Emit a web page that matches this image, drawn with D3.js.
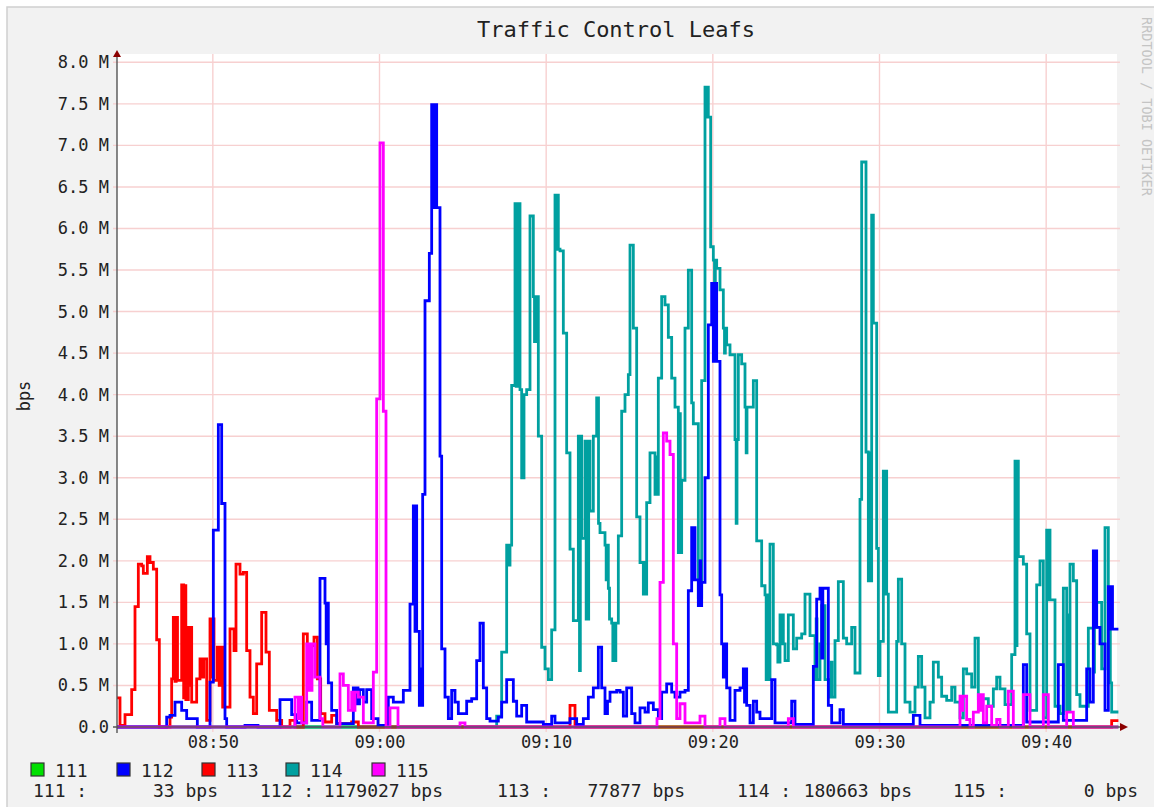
<!DOCTYPE html>
<html>
<head>
<meta charset="utf-8">
<title>Traffic Control Leafs</title>
<script src="https://cdn.jsdelivr.net/npm/d3@7"></script>
<style>
  html, body { margin: 0; padding: 0; background: #ffffff; }
  svg { display: block; }
  text { font-family: "DejaVu Sans Mono", "Liberation Mono", monospace; }
</style>
</head>
<body>
<svg id="chart" width="1154" height="807"></svg>
<script>
// ---- data: each series is a list of [minutes past 08:00, Mbit/s] step points ----
const seriesNames = ["111", "112", "113", "114", "115"];
const seriesColors = ["#00e000", "#0000ff", "#ff0000", "#00a0a0", "#ff00ff"];
const timeRange = [44.25, 104.25];
const xTickLabels = ["08:50", "09:00", "09:10", "09:20", "09:30", "09:40"];
const yTickValues = [0, 0.5, 1.0, 1.5, 2.0, 2.5, 3.0, 3.5, 4.0, 4.5, 5.0, 5.5, 6.0, 6.5, 7.0, 7.5, 8.0];

const s111 = [[44.25,0],[60.0,0.00002],[85.0,0.00004],[103.9,0.000033],[104.25,0.000033]];

const s112 = [[44.25,0],[47.23,0.12],[47.43,0.14],[47.73,0.3],[48.13,0.2],[48.43,0.1],[49.07,0],
  [49.83,0.54],[50.03,2.37],[50.33,3.64],[50.53,2.69],[50.73,0.1],[50.83,0],[51.93,0.02],[52.71,0],
  [54.03,0.33],[54.73,0.15],[55.03,0.05],[55.41,0.05],[55.63,0.3],[55.93,0.08],[56.43,1.79],[56.73,1.49],
  [56.8,1.0],[56.85,1.49],[56.93,0.53],[57.13,0.2],[57.43,0.04],[58.43,0.47],[58.58,0.28],[58.65,0.47],
  [58.71,0.28],[58.8,0.45],[59.03,0.3],[59.23,0.45],[59.53,0.1],[59.91,0.02],[60.53,0.36],[60.83,0.3],
  [61.43,0.44],[61.83,1.48],[62.03,2.66],[62.13,1.15],[62.18,2.66],[62.23,1.15],[62.39,0.26],[62.49,0.7],
  [62.54,0.26],[62.59,2.8],[62.73,5.13],[62.99,5.7],[63.13,7.49],[63.28,6.25],[63.33,7.49],[63.43,6.25],
  [63.63,3.26],[63.73,0.94],[63.93,0.36],[64.13,0.1],[64.33,0.44],[64.53,0.3],[64.73,0.16],[65.23,0.31],
  [65.53,0.34],[65.83,0.8],[66.03,1.25],[66.23,0.47],[66.43,0.1],[66.63,0.07],[67.13,0.12],[67.33,0.3],
  [67.63,0.57],[68.03,0.31],[68.23,0.13],[68.53,0.26],[68.83,0.06],[69.83,0.03],[70.33,0.13],[70.53,0.05],
  [71.43,0.1],[71.83,0.03],[72.23,0.1],[72.53,0.36],[72.83,0.47],[73.13,0.96],[73.33,0.47],[73.53,0.16],
  [73.68,0.31],[73.83,0.42],[74.23,0.44],[74.43,0.42],[74.63,0.13],[74.83,0.47],[75.13,0.16],[75.33,0.05],
  [75.63,0.23],[75.93,0.18],[76.13,0.29],[76.43,0.21],[76.73,0.1],[76.93,0.42],[77.23,0.52],[77.53,0.42],
  [77.73,0.36],[78.03,0.42],[78.33,0.44],[78.53,1.64],[78.73,2.4],[78.83,1.77],[78.88,2.4],[78.93,1.77],
  [79.13,1.46],[79.23,2.0],[79.28,1.46],[79.33,1.74],[79.53,3.0],[79.73,4.84],[79.93,5.34],[80.03,4.4],
  [80.1,5.34],[80.23,4.4],[80.43,1.59],[80.53,1.0],[80.63,0.6],[80.7,1.0],[80.83,0.47],[81.03,0.08],
  [81.33,0.44],[81.63,0.47],[81.83,0.7],[81.9,0.3],[81.95,0.7],[82.03,0.26],[82.23,0.05],[82.43,0.31],
  [82.63,0.18],[82.83,0.1],[83.53,0.57],[83.73,0.05],[84.73,0.31],[84.93,0.03],[86.03,0.73],[86.23,1.54],
  [86.43,1.67],[86.53,0.83],[86.6,1.67],[86.93,0.26],[87.13,0.05],[87.63,0.21],[87.83,0.03],[92.03,0.14],
  [92.43,0.02],[98.63,0.75],[98.83,0.06],[100.73,0.75],[101.03,0.08],[102.43,0.7],[102.63,0.3],[102.83,2.12],
  [102.93,1.2],[102.98,2.12],[103.03,1.2],[103.23,1.0],[103.53,0.2],[103.73,1.69],[103.83,1.179027],
  [103.88,1.69],[103.98,1.179027],[104.25,1.179027]];

const s113 = [[44.25,0.35],[44.43,0.02],[44.73,0.15],[45.13,0.45],[45.33,1.45],[45.53,1.96],[45.73,1.94],
  [45.83,1.85],[46.07,2.05],[46.23,1.98],[46.43,1.9],[46.63,1.05],[46.79,0],[47.43,0.12],[47.53,0.58],
  [47.63,1.32],[47.73,0.55],[47.8,1.32],[47.88,0.56],[48.13,1.71],[48.25,0.35],[48.3,1.7],[48.38,0.33],
  [48.53,1.2],[48.63,0.5],[48.68,1.2],[48.73,0.3],[49.03,0.58],[49.23,0.82],[49.38,0.6],[49.45,0.82],
  [49.63,0.08],[49.83,1.3],[49.93,0.6],[49.98,1.3],[50.07,0.56],[50.27,0.96],[50.38,0.5],[50.45,0.96],
  [50.59,0.24],[51.03,1.18],[51.27,0.92],[51.39,1.96],[51.63,1.84],[51.83,1.86],[52.03,0.92],[52.23,0.36],
  [52.43,0.16],[52.63,0.76],[52.93,1.38],[53.19,0.9],[53.39,0.2],[53.83,0.08],[54.13,0],[54.63,0.08],
  [54.93,0],[55.43,1.12],[55.67,0.98],[56.07,1.08],[56.27,0.58],[56.47,0.16],[56.73,0.06],[57.13,0.14],
  [57.43,0.04],[58.33,0.06],[58.73,0],[71.43,0.26],[71.73,0],[103.93,0.077877],[104.25,0.077877]];

const s114 = [[44.25,0],[67.03,0.13],[67.33,0.9],[67.63,2.19],[67.73,1.95],[67.83,2.19],[67.93,4.11],
  [68.13,6.3],[68.2,4.1],[68.25,6.3],[68.33,4.1],[68.38,6.3],[68.43,4.06],[68.53,3.0],[68.58,3.9],[68.63,3.0],
  [68.67,4.0],[68.83,4.06],[69.03,6.15],[69.23,5.18],[69.3,4.64],[69.35,5.18],[69.43,4.64],[69.48,5.18],
  [69.53,3.5],[69.73,0.96],[69.93,0.7],[70.13,0.57],[70.33,1.17],[70.53,6.4],[70.6,5.75],[70.65,6.4],
  [70.73,5.75],[70.83,5.73],[71.03,4.74],[71.23,3.3],[71.43,2.14],[71.63,1.28],[71.93,3.5],[72.0,0.68],
  [72.05,3.5],[72.13,2.27],[72.33,3.44],[72.4,1.3],[72.45,3.44],[72.5,1.3],[72.55,3.44],[72.63,2.6],
  [72.83,3.5],[73.03,3.96],[73.14,2.45],[73.23,2.34],[73.53,2.19],[73.6,1.77],[73.65,2.19],[73.73,1.67],
  [73.8,1.3],[73.93,1.25],[74.0,0.8],[74.05,1.25],[74.13,0.8],[74.18,1.25],[74.33,2.3],[74.53,3.8],
  [74.73,4.0],[74.93,4.24],[75.03,5.8],[75.23,4.8],[75.43,2.53],[75.63,1.98],[75.83,1.6],[75.9,1.98],
  [75.95,1.6],[76.03,2.7],[76.23,3.3],[76.53,2.8],[76.6,3.25],[76.65,2.8],[76.73,4.2],[76.93,5.18],
  [77.13,5.08],[77.33,4.69],[77.53,4.2],[77.73,3.85],[77.93,2.1],[78.0,3.77],[78.05,2.1],[78.13,2.97],
  [78.33,4.8],[78.53,5.5],[78.73,3.9],[78.83,3.65],[79.13,1.56],[79.2,2.0],[79.25,1.56],[79.33,4.17],
  [79.53,7.7],[79.6,7.34],[79.65,7.7],[79.73,7.34],[79.87,5.78],[80.03,5.62],[80.1,5.36],[80.15,5.62],
  [80.23,5.52],[80.43,5.26],[80.63,4.8],[80.7,4.5],[80.75,4.8],[80.83,4.6],[81.03,4.48],[81.33,3.46],
  [81.4,2.45],[81.45,3.46],[81.53,4.48],[81.73,4.37],[81.93,3.85],[82.0,3.3],[82.05,3.85],[82.13,3.85],
  [82.43,4.17],[82.63,2.24],[82.93,1.7],[83.13,1.59],[83.2,0.57],[83.25,1.59],[83.33,0.57],[83.43,2.2],
  [83.63,1.0],[83.83,0.99],[83.9,0.78],[84.03,1.35],[84.1,1.0],[84.15,1.35],[84.23,1.0],[84.33,0.8],
  [84.53,1.35],[84.83,0.94],[85.03,1.07],[85.33,1.12],[85.53,1.6],[85.83,1.1],[86.13,0.57],[86.2,1.3],
  [86.25,0.57],[86.43,1.0],[86.53,1.46],[86.73,0.57],[87.03,0.36],[87.1,0.78],[87.15,0.36],[87.33,1.04],
  [87.53,1.75],[87.83,1.07],[88.03,1.0],[88.33,1.2],[88.53,0.65],[88.83,2.74],[88.93,6.8],[89.19,3.31],
  [89.33,1.76],[89.4,3.3],[89.45,1.76],[89.53,6.16],[89.63,4.86],[89.83,2.15],[89.93,0.62],[90.03,1.03],
  [90.23,3.08],[90.3,1.6],[90.35,3.08],[90.43,1.6],[90.53,0.18],[91.03,1.03],[91.13,1.78],[91.33,1.0],
  [91.53,0.3],[91.83,0.18],[92.13,0.48],[92.33,0.85],[92.53,0.48],[92.73,0.11],[93.03,0.3],[93.23,0.78],
  [93.53,0.6],[93.73,0.37],[94.03,0.32],[94.33,0.48],[94.53,0.3],[94.83,0.11],[95.03,0.7],[95.23,0.64],
  [95.53,0.48],[95.73,1.07],[95.93,0.34],[96.53,0.25],[96.83,0.46],[97.03,0.6],[97.23,0.46],[97.53,0.27],
  [97.93,0.87],[98.13,3.2],[98.2,0.98],[98.25,3.2],[98.33,2.05],[98.63,1.96],[98.83,1.12],[99.03,0.2],
  [99.43,1.71],[99.63,2.0],[99.83,0.11],[100.03,2.37],[100.1,1.53],[100.15,2.37],[100.23,1.53],[100.53,0.25],
  [100.83,0.16],[101.03,1.67],[101.23,0.2],[101.3,1.35],[101.35,0.2],[101.43,1.96],[101.63,1.76],[101.83,0.39],
  [102.03,0.25],[102.53,1.19],[102.83,0.66],[102.9,1.2],[103.03,1.5],[103.33,0.7],[103.53,2.4],[103.73,0.53],
  [103.8,1.35],[103.85,0.53],[103.93,0.180663],[104.25,0.180663]];

const s115 = [[44.25,0],[54.93,0.36],[55.13,0.1],[55.23,0.36],[55.33,0.05],[55.63,1.0],[55.73,0.44],
  [55.8,1.0],[55.88,0.44],[55.95,1.0],[56.13,0.6],[56.43,0.1],[56.6,0],[57.63,0.64],[57.83,0.5],[58.13,0.2],
  [58.33,0.42],[58.45,0.2],[58.53,0.42],[58.73,0.36],[59.03,0.05],[59.63,0.66],[59.83,3.95],[60.03,7.03],
  [60.23,3.8],[60.39,0],[60.63,0.23],[61.11,0],[64.83,0.05],[65.13,0],[76.65,0.1],[76.83,1.74],[77.03,3.54],
  [77.23,3.44],[77.43,3.28],[77.63,1.0],[77.83,0.1],[78.03,0.28],[78.33,0.05],[79.23,0.13],[79.53,0],
  [80.43,0.1],[80.73,0],[84.53,0.1],[84.83,0],[94.83,0.37],[94.93,0.2],[95.0,0.37],[95.23,0.09],[95.43,0],
  [95.63,0.18],[95.93,0.39],[96.03,0.2],[96.1,0.39],[96.23,0.05],[96.43,0.25],[96.73,0.02],[97.03,0.09],
  [97.23,0],[97.73,0.43],[98.03,0],[98.63,0.39],[99.03,0],[99.83,0.39],[100.13,0],[101.23,0.18],[101.63,0],
  [104.25,0]];

const seriesData = [s111, s112, s113, s114, s115];
// stacking order on the canvas (later = on top)
const drawOrder = [0, 3, 2, 1, 4];

// ---- layout ----
const plot = { left: 117, right: 1117, top: 54, bottom: 727 };
const base = new Date(2000, 0, 1, 8, 0, 0);
const toDate = m => new Date(base.getTime() + m * 60000);
const font = '"DejaVu Sans Mono", "Liberation Mono", monospace';

const svg = d3.select("#chart");

// canvas with frame
svg.append("rect").attr("x", 7).attr("y", 7).attr("width", 1160).attr("height", 820)
  .attr("fill", "#f2f2f2").attr("stroke", "#cfcfcf").attr("stroke-width", 1.5);

const x = d3.scaleTime().domain(timeRange.map(toDate)).range([plot.left, plot.right]);
const y = d3.scaleLinear().domain([0, 8.1e6]).range([plot.bottom, plot.top]);

// plot background
svg.append("rect").attr("x", plot.left).attr("y", plot.top)
  .attr("width", plot.right - plot.left).attr("height", plot.bottom - plot.top).attr("fill", "#ffffff");

const xTickDates = xTickLabels.map(s => {
  const [h, m] = s.split(":").map(Number);
  return toDate((h - 8) * 60 + m);
});

// grid
const grid = svg.append("g").attr("stroke", "#f7d0d0").attr("stroke-width", 1.4);
grid.selectAll("line.h").data(yTickValues.filter(v => v > 0)).join("line")
  .attr("x1", plot.left - 4).attr("x2", plot.right + 3)
  .attr("y1", d => y(d * 1e6)).attr("y2", d => y(d * 1e6));
grid.selectAll("line.v").data(xTickDates).join("line")
  .attr("x1", d => x(d)).attr("x2", d => x(d))
  .attr("y1", plot.top).attr("y2", plot.bottom + 5);

// series lines
svg.append("clipPath").attr("id", "plotclip").append("rect")
  .attr("x", plot.left).attr("y", plot.top - 5)
  .attr("width", plot.right - plot.left + 2).attr("height", plot.bottom - plot.top + 8);

const line = d3.line()
  .x(d => x(toDate(d[0])))
  .y(d => y(d[1] * 1e6))
  .curve(d3.curveStepAfter);

const lines = svg.append("g").attr("clip-path", "url(#plotclip)");
drawOrder.forEach(i => {
  lines.append("path")
    .datum(seriesData[i])
    .attr("d", line)
    .attr("fill", "none")
    .attr("stroke", seriesColors[i])
    .attr("stroke-width", 2.8)
    .attr("stroke-linejoin", "miter")
    .attr("stroke-linecap", "square");
});

// axes lines with arrows
svg.append("line").attr("x1", plot.left).attr("x2", plot.left)
  .attr("y1", plot.bottom + 6).attr("y2", plot.top - 2)
  .attr("stroke", "#555").attr("stroke-width", 1.4);
svg.append("line").attr("x1", plot.left - 4).attr("x2", plot.right + 4)
  .attr("y1", plot.bottom).attr("y2", plot.bottom)
  .attr("stroke", "#555").attr("stroke-width", 1.4);
svg.append("path")
  .attr("d", `M${plot.left - 4},${plot.top + 3} L${plot.left + 4},${plot.top + 3} L${plot.left},${plot.top - 4} Z`)
  .attr("fill", "#8b0000");
svg.append("path")
  .attr("d", `M${plot.right + 3},${plot.bottom - 4} L${plot.right + 3},${plot.bottom + 4} L${plot.right + 11},${plot.bottom} Z`)
  .attr("fill", "#8b0000");

// y axis labels
const yAxis = d3.axisLeft(y)
  .tickValues(yTickValues.map(v => v * 1e6))
  .tickFormat(v => v === 0 ? "0.0" : (v / 1e6).toFixed(1) + " M")
  .tickSize(0).tickPadding(8);
const gy = svg.append("g").attr("transform", `translate(${plot.left},0)`).call(yAxis);
gy.select(".domain").remove();
gy.selectAll("text").attr("font-family", font).attr("font-size", 17).attr("fill", "#222");

// x axis labels
const xAxis = d3.axisBottom(x)
  .tickValues(xTickDates)
  .tickFormat((d, i) => xTickLabels[i])
  .tickSize(0).tickPadding(9);
const gx = svg.append("g").attr("transform", `translate(0,${plot.bottom})`).call(xAxis);
gx.select(".domain").remove();
gx.selectAll("text").attr("font-family", font).attr("font-size", 17).attr("fill", "#222");

// title
svg.append("text").attr("x", 616).attr("y", 37).attr("text-anchor", "middle")
  .attr("font-family", font).attr("font-size", 22).attr("fill", "#222")
  .text("Traffic Control Leafs");

// vertical unit label
svg.append("text").attr("transform", "translate(30,396) rotate(-90)")
  .attr("text-anchor", "middle").attr("font-family", font).attr("font-size", 17).attr("fill", "#222")
  .text("bps");

// side watermark
svg.append("text").attr("transform", "translate(1142,17) rotate(90)")
  .attr("font-family", font).attr("font-size", 13.5).attr("fill", "#c4c4c4")
  .text("RRDTOOL / TOBI OETIKER");

// legend row: colour boxes
const legendX = [31, 117, 202, 286, 372];
const leg = svg.append("g");
seriesNames.forEach((name, i) => {
  leg.append("rect").attr("x", legendX[i]).attr("y", 763).attr("width", 13).attr("height", 13)
    .attr("fill", seriesColors[i]).attr("stroke", "#333").attr("stroke-width", 1.2);
  leg.append("text").attr("x", legendX[i] + 24).attr("y", 777)
    .attr("font-family", font).attr("font-size", 18).attr("fill", "#222").text(name);
});

// legend row: last values
const labelX = [33, 260, 497, 737, 953];
const valueEndX = [218, 443, 685, 912, 1138];
seriesNames.forEach((name, i) => {
  const last = seriesData[i][seriesData[i].length - 1][1] * 1e6;
  leg.append("text").attr("x", labelX[i]).attr("y", 797)
    .attr("font-family", font).attr("font-size", 18).attr("fill", "#222").text(name + " :");
  leg.append("text").attr("x", valueEndX[i]).attr("y", 797).attr("text-anchor", "end")
    .attr("font-family", font).attr("font-size", 18).attr("fill", "#222")
    .text(Math.round(last) + " bps");
});
</script>
</body>
</html>
